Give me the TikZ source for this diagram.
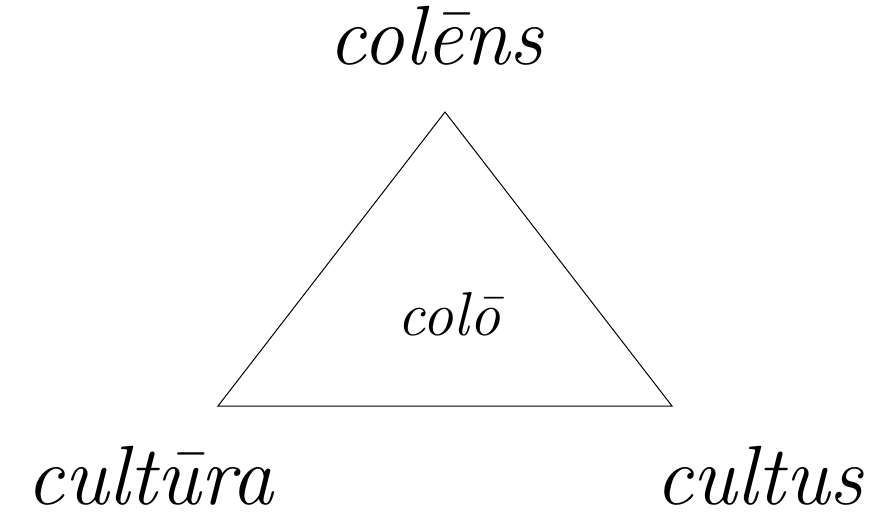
\documentclass[tikz,border=0pt]{standalone}
\begin{document}
\begin{tikzpicture}[x=1pt,y=-1pt,
  big/.style={font=\fontsize{84}{84}\selectfont\itshape, anchor=base, inner sep=0pt},
  mid/.style={font=\fontsize{62}{62}\selectfont\itshape, anchor=base, inner sep=0pt}]
\useasboundingbox (0,0) rectangle (873,517);
\coordinate (top) at (445,112);
\coordinate (bl) at (218,406);
\coordinate (br) at (672,406);
\draw[line width=1pt] (top) -- (bl) -- (br) -- cycle;
\node[big] (colens) at (436,64) {col\=ens};
\node[big] (cultura) at (150,504) {cult\=ura};
\node[big] (cultus) at (759,504) {cultus};
\node[mid] (colo) at (449,335) {col\=o};
\end{tikzpicture}
\end{document}
